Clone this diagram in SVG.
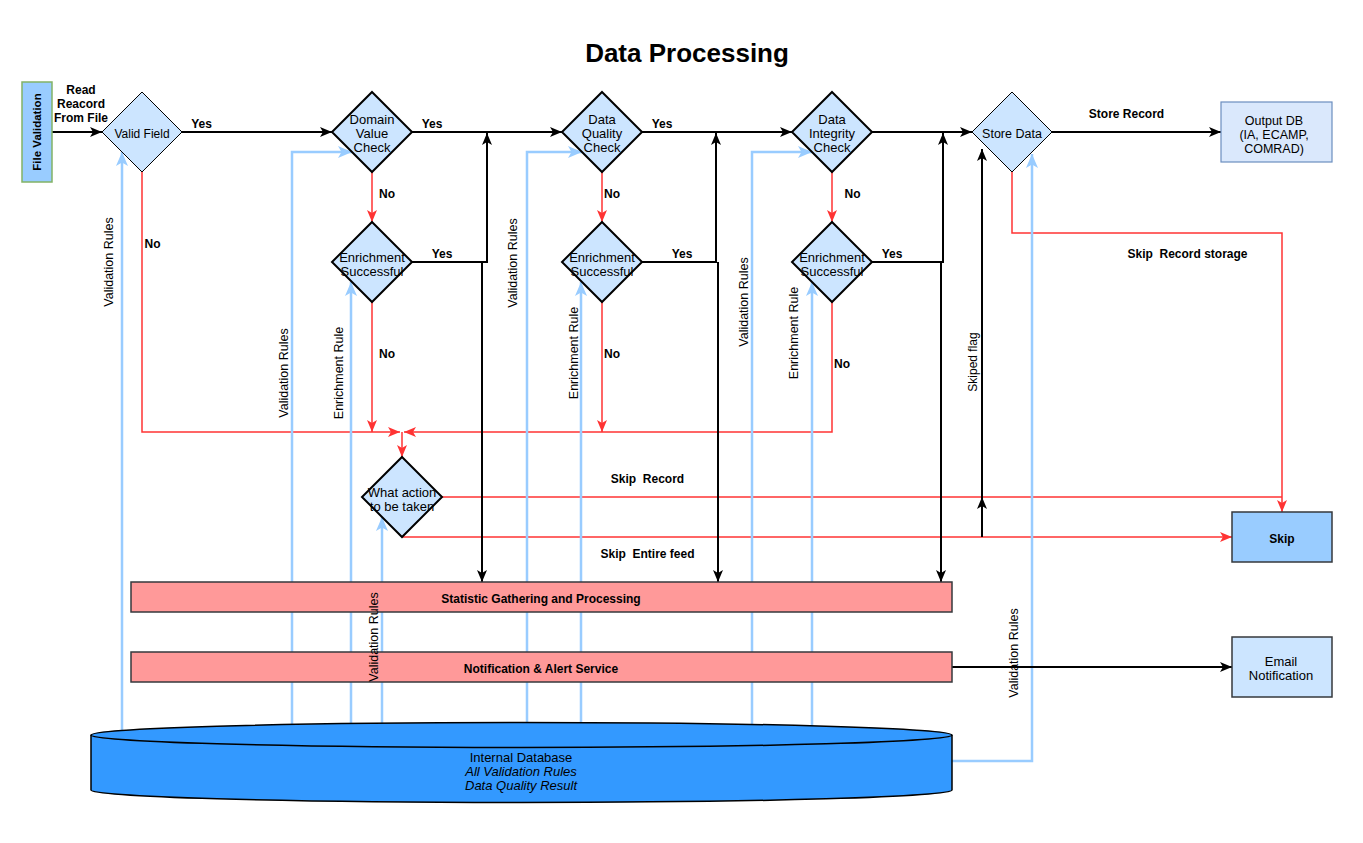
<svg xmlns="http://www.w3.org/2000/svg" width="1363" height="843" viewBox="0 0 1363 843">
<defs>
<style>
text{font-family:"Liberation Sans",Arial,Helvetica,sans-serif;fill:#000}
.t12{font-size:12px}
.t13{font-size:13px}
.r{font-size:12.5px}
.b{font-weight:bold}
.c{text-anchor:middle}
.i{font-style:italic}
.blk{fill:none;stroke:#000;stroke-width:2}
.red{fill:none;stroke:#ff3333;stroke-width:1.5}
.blu{fill:none;stroke:#99ccff;stroke-width:2.5}
.dia{fill:#cce5ff;stroke:#000;stroke-width:2}
.dia1{fill:#cce5ff;stroke:#000;stroke-width:1}
.bar{fill:#ff9999;stroke:#36393d;stroke-width:1.5}
</style>
<marker id="ak" markerUnits="userSpaceOnUse" markerWidth="12" markerHeight="10" refX="12" refY="5" orient="auto"><path d="M0,0 L12,5 L0,10 L3,5 Z" fill="#000"/></marker>
<marker id="ar" markerUnits="userSpaceOnUse" markerWidth="12" markerHeight="10" refX="12" refY="5" orient="auto"><path d="M0,0 L12,5 L0,10 L3,5 Z" fill="#ff3333"/></marker>
<marker id="ab" markerUnits="userSpaceOnUse" markerWidth="14" markerHeight="12" refX="14" refY="6" orient="auto"><path d="M0,0 L14,6 L0,12 L3.5,6 Z" fill="#99ccff"/></marker>
</defs>
<rect width="1363" height="843" fill="#fff"/>
<text x="687" y="62" class="c b" font-size="26">Data Processing</text>

<g id="connectors">
  <g id="red-lines">
    <path class="red" d="M142,172 V432 H400" marker-end="url(#ar)"/>
    <path class="red" d="M372,172 V222" marker-end="url(#ar)"/>
    <path class="red" d="M372,302 V432" marker-end="url(#ar)"/>
    <path class="red" d="M602,172 V222" marker-end="url(#ar)"/>
    <path class="red" d="M602,302 V432" marker-end="url(#ar)"/>
    <path class="red" d="M832,172 V222" marker-end="url(#ar)"/>
    <path class="red" d="M832,302 V432 H404" marker-end="url(#ar)"/>
    <path class="red" d="M402,432 V457" marker-end="url(#ar)"/>
    <path class="red" d="M1012,172 V233 H1282 V512" marker-end="url(#ar)"/>
    <path class="red" d="M442,497 H1282"/>
    <path class="red" d="M402,537 H1232" marker-end="url(#ar)"/>
  </g>
  <g id="black-lines">
    <path class="blk" d="M52,132 H102" marker-end="url(#ak)"/>
    <path class="blk" d="M182,132 H332" marker-end="url(#ak)"/>
    <path class="blk" d="M412,132 H562" marker-end="url(#ak)"/>
    <path class="blk" d="M642,132 H792" marker-end="url(#ak)"/>
    <path class="blk" d="M872,132 H972" marker-end="url(#ak)"/>
    <path class="blk" d="M1052,132 H1221" marker-end="url(#ak)"/>
    <path class="blk" d="M412,262 H487 V133" marker-end="url(#ak)"/>
    <path class="blk" d="M482,262 V582" marker-end="url(#ak)"/>
    <path class="blk" d="M642,262 H716 V133" marker-end="url(#ak)"/>
    <path class="blk" d="M718,262 V582" marker-end="url(#ak)"/>
    <path class="blk" d="M872,262 H943 V133" marker-end="url(#ak)"/>
    <path class="blk" d="M941,262 V582" marker-end="url(#ak)"/>
    <path class="blk" d="M982,537 V497" marker-end="url(#ak)"/>
    <path class="blk" d="M982,497 V149" marker-end="url(#ak)"/>
  </g>
  <g id="blue-lines">
    <path class="blu" d="M122,740 V152" marker-end="url(#ab)"/>
    <path class="blu" d="M292,740 V152 H352" marker-end="url(#ab)"/>
    <path class="blu" d="M351,740 V282" marker-end="url(#ab)"/>
    <path class="blu" d="M382,740 V517" marker-end="url(#ab)"/>
    <path class="blu" d="M527,740 V152 H582" marker-end="url(#ab)"/>
    <path class="blu" d="M581,740 V282" marker-end="url(#ab)"/>
    <path class="blu" d="M752,740 V152 H812" marker-end="url(#ab)"/>
    <path class="blu" d="M812,740 V282" marker-end="url(#ab)"/>
    <path class="blu" d="M952,761 H1032 V154" marker-end="url(#ab)"/>
  </g>
  <path class="blk" d="M952,667 H1232" marker-end="url(#ak)"/>
</g>

<g id="nodes">
  <g id="file-validation">
    <rect x="22" y="82" width="30" height="100" fill="#99ccff" stroke="#82b366" stroke-width="1.5"/>
    <text transform="translate(41.2,132) rotate(-90)" class="c b" font-size="11.5">File Validation</text>
  </g>
  <g id="valid-field">
    <polygon class="dia1" points="142,92 182,132 142,172 102,132"/>
    <text x="142" y="137.5" class="c t12">Valid Field</text>
  </g>
  <g id="domain-value-check">
    <polygon class="dia" points="372,92 412,132 372,172 332,132"/>
    <text x="372" y="124" class="c t13">Domain</text>
    <text x="372" y="138" class="c t13">Value</text>
    <text x="372" y="152" class="c t13">Check</text>
  </g>
  <g id="data-quality-check">
    <polygon class="dia" points="602,92 642,132 602,172 562,132"/>
    <text x="602" y="124" class="c t13">Data</text>
    <text x="602" y="138" class="c t13">Quality</text>
    <text x="602" y="152" class="c t13">Check</text>
  </g>
  <g id="data-integrity-check">
    <polygon class="dia" points="832,92 872,132 832,172 792,132"/>
    <text x="832" y="124" class="c t13">Data</text>
    <text x="832" y="138" class="c t13">Integrity</text>
    <text x="832" y="152" class="c t13">Check</text>
  </g>
  <g id="store-data">
    <polygon class="dia1" points="1012,92 1052,132 1012,172 972,132"/>
    <text x="1012" y="137.8" class="c" font-size="12.5">Store Data</text>
  </g>
  <g id="output-db">
    <rect x="1221" y="102" width="111" height="60" fill="#dae8fc" stroke="#6c8ebf" stroke-width="1.2"/>
    <text x="1274" y="124.5" class="c" font-size="12.5">Output DB</text>
    <text x="1274" y="138.5" class="c" font-size="12.5">(IA, ECAMP,</text>
    <text x="1274" y="152.5" class="c" font-size="12.5">COMRAD)</text>
  </g>
  <g id="enrichment-1">
    <polygon class="dia" points="372,222 412,262 372,302 332,262"/>
    <text x="372" y="261.5" class="c t13">Enrichment</text>
    <text x="372" y="275.5" class="c t13">Successful</text>
  </g>
  <g id="enrichment-2">
    <polygon class="dia" points="602,222 642,262 602,302 562,262"/>
    <text x="602" y="261.5" class="c t13">Enrichment</text>
    <text x="602" y="275.5" class="c t13">Successful</text>
  </g>
  <g id="enrichment-3">
    <polygon class="dia" points="832,222 872,262 832,302 792,262"/>
    <text x="832" y="261.5" class="c t13">Enrichment</text>
    <text x="832" y="275.5" class="c t13">Successful</text>
  </g>
  <g id="what-action">
    <polygon class="dia" points="402,457 442,497 402,537 362,497"/>
    <text x="402" y="496.5" class="c t13">What action</text>
    <text x="402" y="510.5" class="c t13">to be taken</text>
  </g>
  <g id="skip">
    <rect x="1232" y="512" width="100" height="50" fill="#99ccff" stroke="#36393d" stroke-width="1.5"/>
    <text x="1282" y="542.5" class="c t12 b">Skip</text>
  </g>
  <g id="statistic">
    <rect class="bar" x="131" y="582" width="821" height="30"/>
    <text x="541" y="602.5" class="c t12 b">Statistic Gathering and Processing</text>
  </g>
  <g id="notification">
    <rect class="bar" x="131" y="652" width="821" height="30"/>
    <text x="541" y="672.5" class="c t12 b">Notification &amp; Alert Service</text>
  </g>
  <g id="email-notification">
    <rect x="1232" y="637" width="100" height="60" fill="#cce5ff" stroke="#36393d" stroke-width="1.5"/>
    <text x="1281" y="665.5" class="c t13">Email</text>
    <text x="1281" y="679.5" class="c t13">Notification</text>
  </g>
  <g id="internal-database">
    <path d="M91,735 A430.5,12.5 0 0 1 952,735 V790 A430.5,12.5 0 0 1 91,790 Z" fill="#3399ff" stroke="#000" stroke-width="1.5"/>
    <path d="M91,735 A430.5,12.5 0 0 0 952,735" fill="none" stroke="#000" stroke-width="1.5"/>
    <text x="521" y="761.5" class="c t13">Internal Database</text>
    <text x="521" y="775.5" class="c t13 i">All Validation Rules</text>
    <text x="521" y="789.5" class="c t13 i">Data Quality Result</text>
  </g>
</g>

<g id="edge-labels">
  <text x="81" y="94.3" class="c t12 b">Read</text>
  <text x="81" y="108.3" class="c t12 b">Reacord</text>
  <text x="81" y="122.3" class="c t12 b">From File</text>
  <text x="201.5" y="127.6" class="c t12 b">Yes</text>
  <text x="432" y="127.6" class="c t12 b">Yes</text>
  <text x="662" y="127.6" class="c t12 b">Yes</text>
  <text x="442" y="257.6" class="c t12 b">Yes</text>
  <text x="682" y="257.6" class="c t12 b">Yes</text>
  <text x="892" y="257.6" class="c t12 b">Yes</text>
  <text x="152.5" y="248.3" class="c t12 b">No</text>
  <text x="387" y="198.3" class="c t12 b">No</text>
  <text x="612" y="198.3" class="c t12 b">No</text>
  <text x="852.5" y="198.3" class="c t12 b">No</text>
  <text x="387" y="358.3" class="c t12 b">No</text>
  <text x="612" y="358.3" class="c t12 b">No</text>
  <text x="842" y="368.3" class="c t12 b">No</text>
  <text x="1126.5" y="118" class="c t12 b">Store Record</text>
  <text x="1187.5" y="258.3" class="c t12 b" xml:space="preserve">Skip  Record storage</text>
  <text x="647.5" y="483" class="c t12 b" xml:space="preserve">Skip  Record</text>
  <text x="647.5" y="557.6" class="c t12 b" xml:space="preserve">Skip  Entire feed</text>
  <text transform="translate(112.5,262) rotate(-90)" class="c r">Validation Rules</text>
  <text transform="translate(287.5,373) rotate(-90)" class="c r">Validation Rules</text>
  <text transform="translate(342.5,373) rotate(-90)" class="c r">Enrichment Rule</text>
  <text transform="translate(377.5,637) rotate(-90)" class="c r">Validation Rules</text>
  <text transform="translate(516.5,263) rotate(-90)" class="c r">Validation Rules</text>
  <text transform="translate(577.5,353) rotate(-90)" class="c r">Enrichment Rule</text>
  <text transform="translate(747.5,302) rotate(-90)" class="c r">Validation Rules</text>
  <text transform="translate(797.5,333) rotate(-90)" class="c r">Enrichment Rule</text>
  <text transform="translate(977.3,362) rotate(-90)" class="c t12">Skiped flag</text>
  <text transform="translate(1017.5,653) rotate(-90)" class="c r">Validation Rules</text>
</g>
</svg>
